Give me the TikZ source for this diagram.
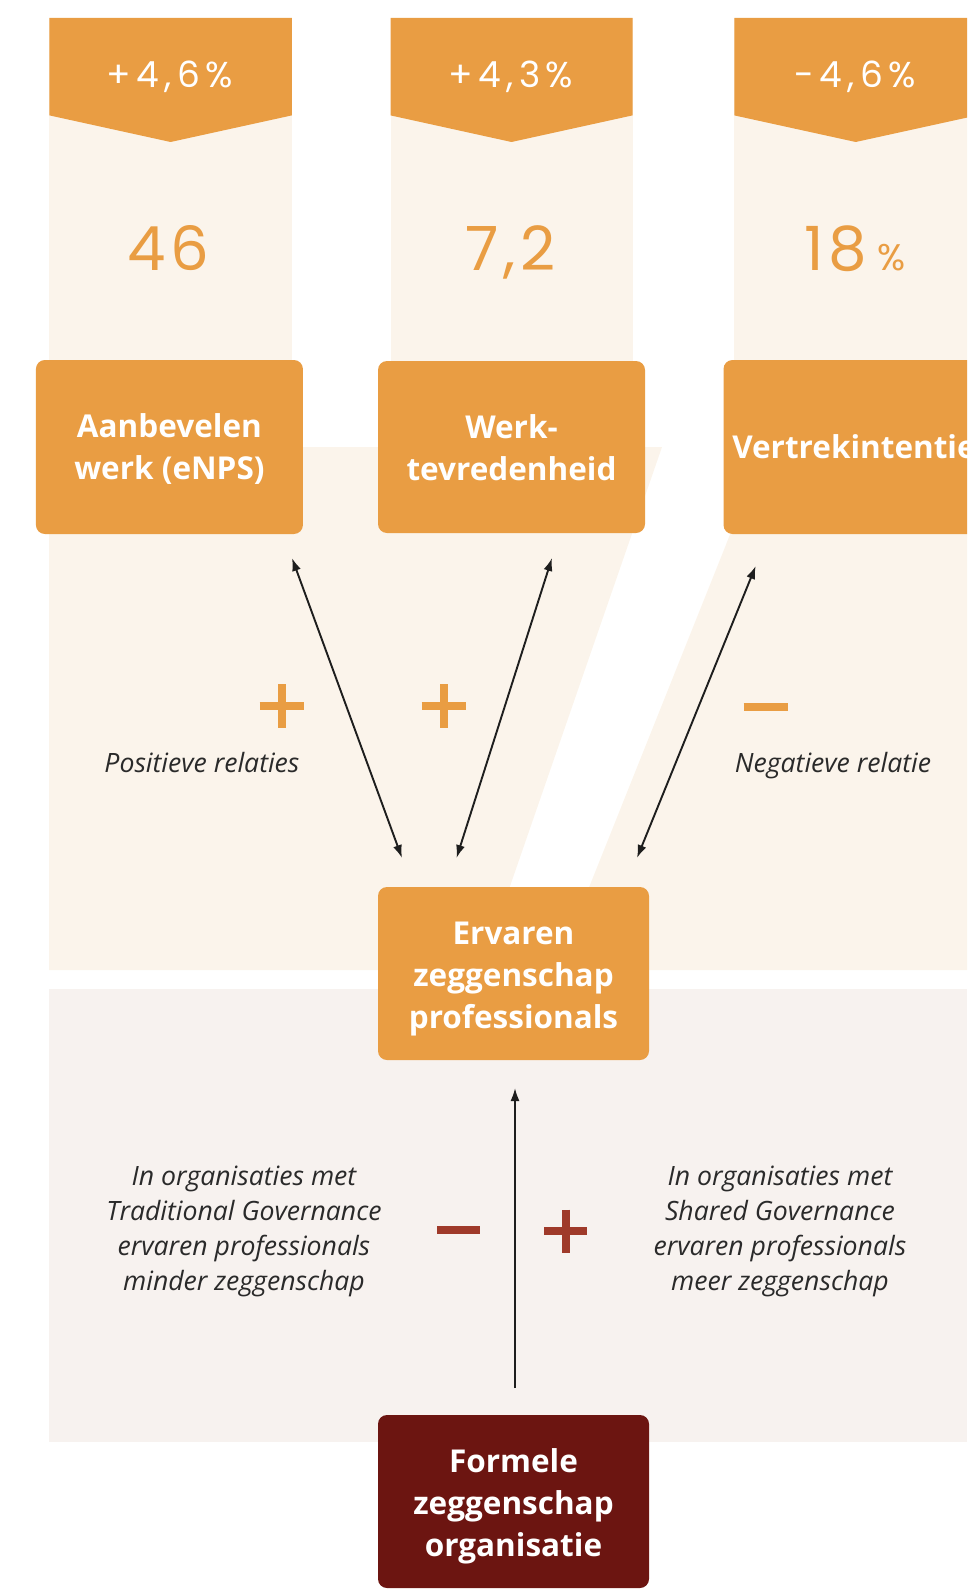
\documentclass[tikz,border=0pt]{standalone}
\usepackage{fontspec}
\setmainfont{Open Sans}
\newfontfamily\numfont[LetterSpace=8]{Poppins}
\newfontfamily\bannerfont[LetterSpace=15]{Poppins}
\usetikzlibrary{arrows.meta}
\definecolor{orng}{HTML}{E99D43}
\definecolor{cream}{HTML}{FBF4EB}
\definecolor{pinkgray}{HTML}{F7F2EF}
\definecolor{darkred}{HTML}{6C1511}
\definecolor{signred}{HTML}{9F3A2A}
\definecolor{inkc}{HTML}{1E1E1E}
\definecolor{txtc}{HTML}{2A2A2A}
\tikzset{
  boxnode/.style={rectangle, rounded corners=9pt, fill=orng, text=white, align=center, inner sep=0pt,
    font=\bfseries\fontsize{31.5}{42}\selectfont},
  darkbox/.style={boxnode, fill=darkred},
  bannertxt/.style={anchor=base, text=white, inner sep=0pt, font=\bannerfont\fontsize{36}{36}\selectfont},
  bignum/.style={anchor=base, text=orng, inner sep=0pt, font=\numfont\fontsize{61}{61}\selectfont},
  italabel/.style={anchor=base, text=txtc, inner sep=0pt, font=\itshape\fontsize{26.6}{30}\selectfont},
  itablock/.style={text=txtc, inner sep=0pt, align=center, font=\itshape\fontsize{26.6}{34.8}\selectfont},
  dblarrow/.style={draw=inkc, line width=1.9pt, {Latex[length=13pt,width=9pt]}-{Latex[length=13pt,width=9pt]}},
  onearrow/.style={draw=inkc, line width=1.9pt, -{Latex[length=13pt,width=9pt]}},
  signline/.style={line width=8pt}
}
\newcommand\topstrut[1]{\rule{0pt}{#1}}
\begin{document}
\begin{tikzpicture}[x=1pt,y=-1pt]
\useasboundingbox (0,0) rectangle (967,1589);
\clip (0,0) rectangle (967,1589);
% background regions
\fill[cream] (49,447) -- (662,447) -- (481,970) -- (49,970) -- cycle;
\fill[cream] (765,447) -- (967,447) -- (967,970) -- (556,970) -- cycle;
\fill[cream] (49.4,18) rectangle (291.8,447);
\fill[cream] (390.5,18) rectangle (632.5,447);
\fill[cream] (734.3,18) rectangle (977,447);
\fill[pinkgray] (49,989) rectangle (967,1442);
% banners
\fill[orng] (49.4,18) -- (291.8,18) -- (291.8,115.4) -- (170.6,142) -- (49.4,115.4) -- cycle;
\fill[orng] (390.5,18) -- (632.5,18) -- (632.5,115.4) -- (511.5,142) -- (390.5,115.4) -- cycle;
\fill[orng] (734.3,18) -- (977,18) -- (977,115.4) -- (855.7,142) -- (734.3,115.4) -- cycle;
\node[bannertxt] (b1) at (170,87.5) {+4,6\%};
\node[bannertxt] (b2) at (511,87.5) {+4,3\%};
\node[bannertxt] (b3) at (855,87.5) {-4,6\%};
% big numbers
\node[bignum] (n1) at (168.5,270) {46};
\node[bignum] (n2) at (510.5,270) {7,2};
\node[bignum] (n3) at (855,270) {18\,{\fontsize{37}{37}\selectfont\%}};
% boxes
\node[boxnode, minimum width=267pt, minimum height=174pt] (enps) at (169.4,447) {\topstrut{28pt}Aanbevelen\\werk (eNPS)};
\node[boxnode, minimum width=267pt, minimum height=172pt] (tevr) at (511.5,447) {\topstrut{25pt}Werk-\\tevredenheid};
\node[boxnode, minimum width=261pt, minimum height=174pt] (vertr) at (854,447) {Vertrekintentie};
\node[boxnode, minimum width=271pt, minimum height=173pt] (ervaren) at (513.5,973.5) {\topstrut{34pt}Ervaren\\zeggenschap\\professionals};
\node[darkbox, minimum width=271pt, minimum height=173pt] (formeel) at (513.5,1501.5) {\topstrut{33pt}Formele\\zeggenschap\\organisatie};
% arrow end points
\coordinate (a1t) at (292,558);
\coordinate (a1b) at (402,858);
\coordinate (a2t) at (552,558);
\coordinate (a2b) at (456.5,858);
\coordinate (a3t) at (755.7,566);
\coordinate (a3b) at (637,858);
\coordinate (vb) at (515,1388);
\coordinate (vt) at (515,1088);
\draw[dblarrow] (a1t) -- (a1b);
\draw[dblarrow] (a2t) -- (a2b);
\draw[dblarrow] (a3t) -- (a3b);
\draw[onearrow] (vb) -- (vt);
% signs
\draw[signline, orng] (259.5,706) -- (303.5,706) (281.5,684) -- (281.5,728);
\draw[signline, orng] (421.5,706) -- (465.5,706) (443.5,684) -- (443.5,728);
\draw[signline, orng] (743.5,707) -- (787.5,707);
\draw[signline, signred] (437,1230) -- (480,1230);
\draw[signline, signred] (544,1231) -- (587,1231) (565.5,1209.5) -- (565.5,1252.5);
% labels
\node[italabel] (pos) at (202,772) {Positieve relaties};
\node[italabel] (neg) at (833,772) {Negatieve relatie};
\node[itablock, anchor=base] (trad) at (244,1290) {In organisaties met\\Traditional Governance\\ervaren professionals\\minder zeggenschap};
\node[itablock, anchor=base] (shared) at (780,1290) {In organisaties met\\Shared Governance\\ervaren professionals\\meer zeggenschap};
\end{tikzpicture}
\end{document}
